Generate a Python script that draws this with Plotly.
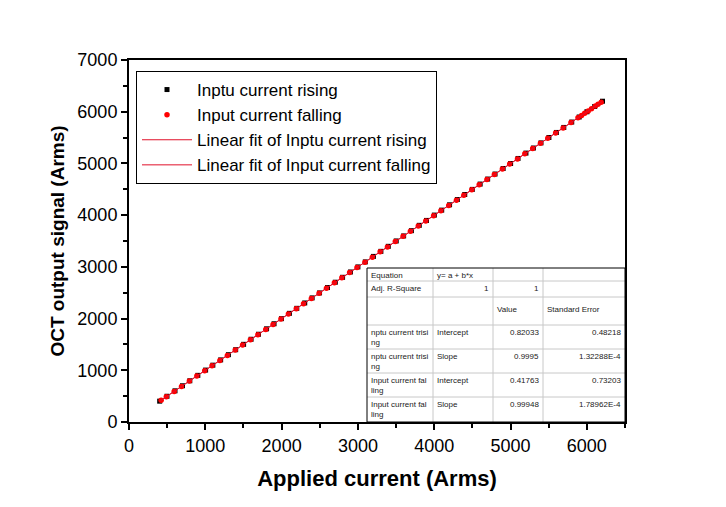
import plotly.graph_objects as go

# ---------------- data ----------------
rise_x = [402, 498, 603, 701, 797, 902, 1004, 1099, 1201, 1303,
          1398, 1502, 1600, 1697, 1803, 1901, 1998, 2102, 2199, 2303,
          2400, 2497, 2601, 2704, 2799, 2902, 3000, 3097, 3203, 3301,
          3398, 3502, 3599, 3701, 3804, 3899, 4002, 4098, 4201, 4303,
          4400, 4499, 4602, 4700, 4797, 4903, 5001, 5098, 5202, 5300,
          5399, 5503, 5601, 5698, 5802, 5900, 6001, 6103, 6205]
rise_y = [403, 498, 603, 701, 797, 902, 1004, 1099, 1201, 1302,
          1398, 1502, 1600, 1697, 1802, 1900, 1998, 2101, 2198, 2302,
          2400, 2496, 2600, 2703, 2798, 2901, 2999, 3096, 3202, 3300,
          3397, 3501, 3598, 3700, 3803, 3898, 4001, 4097, 4200, 4302,
          4399, 4498, 4601, 4698, 4795, 4902, 4999, 5096, 5200, 5298,
          5397, 5501, 5599, 5696, 5800, 5898, 5999, 6101, 6203]

fall_x = [6188, 6147, 6112, 6061, 6018, 5972, 5931, 5884, 5792, 5689,
          5591, 5488, 5392, 5290, 5187, 5091, 4989, 4893, 4788, 4691,
          4589, 4492, 4388, 4291, 4190, 4087, 3992, 3889, 3791, 3688,
          3592, 3490, 3387, 3291, 3189, 3092, 2988, 2891, 2789, 2692,
          2588, 2491, 2390, 2287, 2192, 2089, 1991, 1888, 1792, 1689,
          1591, 1488, 1392, 1289, 1191, 1088, 992, 889, 791, 688,
          592, 489, 421]
fall_y = [6185, 6145, 6109, 6058, 6016, 5969, 5929, 5881, 5790, 5687,
          5588, 5486, 5389, 5288, 5185, 5088, 4987, 4890, 4786, 4689,
          4587, 4490, 4386, 4289, 4188, 4085, 3990, 3887, 3789, 3687,
          3590, 3489, 3386, 3290, 3188, 3091, 2987, 2890, 2788, 2691,
          2587, 2490, 2389, 2286, 2191, 2088, 1990, 1887, 1791, 1688,
          1590, 1487, 1391, 1288, 1190, 1088, 992, 889, 791, 688,
          592, 489, 421]

fit_intercept = [0.82033, 0.41763]
fit_slope = [0.9995, 0.99948]
fit_intercept_err = ["0.48218", "0.73203"]
fit_slope_err = ["1.32288E-4", "1.78962E-4"]

series_names = ["Inptu current rising", "Input current falling",
                "Linear fit of Inptu current rising", "Linear fit of Input current falling"]

x_ticks = [0, 1000, 2000, 3000, 4000, 5000, 6000]
y_ticks = [0, 1000, 2000, 3000, 4000, 5000, 6000, 7000]

FONT = "Arial, Liberation Sans, sans-serif"

fig = go.Figure()
fig.add_trace(go.Scatter(x=rise_x, y=rise_y, mode="markers", name=series_names[0],
                         marker=dict(symbol="square", size=5, color="black")))
fig.add_trace(go.Scatter(x=fall_x, y=fall_y, mode="markers", name=series_names[1],
                         marker=dict(symbol="circle", size=5.5, color="#ff0000")))
for i, (xs, nm) in enumerate([(rise_x, series_names[2]), (fall_x, series_names[3])]):
    x0, x1 = min(xs), max(xs)
    fig.add_trace(go.Scatter(x=[x0, x1],
                             y=[fit_intercept[i] + fit_slope[i] * x0, fit_intercept[i] + fit_slope[i] * x1],
                             mode="lines", name=nm, line=dict(color="#e0102a", width=1)))

# ---------------- layout ----------------
L, R, T, B = 129, 625, 60, 422
W, H = 726, 507


def px(xp):
    return (xp - L) / (R - L)


def py(yp):
    return (B - yp) / (B - T)


shapes = []
annotations = []

# fit table inset
col = [367, 433, 493, 543, 625]
row = [268, 281, 297, 325, 349, 373, 397, 422]
for c in col[1:-1]:
    shapes.append(dict(type="line", xref="paper", yref="paper", x0=px(c), x1=px(c),
                       y0=py(row[0]), y1=py(row[-1]), line=dict(color="#c8c8c8", width=1)))
for r in row[1:-1]:
    shapes.append(dict(type="line", xref="paper", yref="paper", x0=px(col[0]), x1=px(col[-1]),
                       y0=py(r), y1=py(r), line=dict(color="#c8c8c8", width=1)))
shapes.append(dict(type="rect", xref="paper", yref="paper", x0=px(col[0]), x1=px(col[-1]),
                   y0=py(row[-1]), y1=py(row[0]), line=dict(color="black", width=1),
                   fillcolor="rgba(255,255,255,0)", layer="above"))


def cell(text, x, y, align="left"):
    annotations.append(dict(text=text, xref="paper", yref="paper", x=px(x), y=py(y),
                            xanchor=align, yanchor="top", showarrow=False, align=align,
                            font=dict(family=FONT, size=8, color="#222")))


cell("Equation", col[0] + 2, row[0] + 1)
cell("y= a + b*x", col[1] + 2, row[0] + 1)
cell("Adj. R-Square", col[0] + 2, row[1] + 1)
cell("1", col[2] - 2, row[1] + 1, "right")
cell("1", col[3] - 2, row[1] + 1, "right")
cell("Value", col[2] + 2, row[2] + 6)
cell("Standard Error", col[3] + 2, row[2] + 6)
labels = ["nptu current trisi<br>ng", "nptu current trisi<br>ng",
          "Input current fal<br>ling", "Input current fal<br>ling"]
params = ["Intercept", "Slope", "Intercept", "Slope"]
vals = [f"{fit_intercept[0]:.5f}", f"{fit_slope[0]}", f"{fit_intercept[1]:.5f}", f"{fit_slope[1]}"]
errs = [fit_intercept_err[0], fit_slope_err[0], fit_intercept_err[1], fit_slope_err[1]]
for k in range(4):
    top = row[3 + k] + 1
    cell(labels[k], col[0] + 2, top)
    cell(params[k], col[1] + 2, top)
    cell(vals[k], col[3] - 2, top, "right")
    cell(errs[k], col[4] - 2, top, "right")

axis_common = dict(showline=True, linecolor="black", linewidth=2, mirror=True,
                   ticks="outside", ticklen=6, tickwidth=1.5, tickcolor="black",
                   showgrid=False, zeroline=False,
                   tickfont=dict(family=FONT, size=18, color="black"))

fig.update_layout(
    width=W, height=H,
    margin=dict(l=L, r=W - R, t=T, b=H - B),
    paper_bgcolor="white", plot_bgcolor="white",
    font=dict(family=FONT, color="black"),
    xaxis=dict(range=[0, 6500], tickvals=x_ticks, ticktext=[str(v) for v in x_ticks],
               minor=dict(ticks="outside", ticklen=4, dtick=500, tickcolor="black", tickwidth=1.5),
               title=dict(text="<b>Applied current (Arms)</b>", font=dict(family=FONT, size=22), standoff=16),
               **axis_common),
    yaxis=dict(range=[0, 7000], tickvals=y_ticks, ticktext=[str(v) for v in y_ticks],
               minor=dict(ticks="outside", ticklen=4, dtick=500, tickcolor="black", tickwidth=1.5),
               title=dict(text="<b>OCT output signal (Arms)</b>", font=dict(family=FONT, size=19), standoff=8),
               **axis_common),
    legend=dict(x=px(136), y=py(71), xanchor="left", yanchor="top",
                bordercolor="black", borderwidth=1, bgcolor="white",
                font=dict(family=FONT, size=17, color="black"),
                tracegroupgap=0, itemwidth=50),
    shapes=shapes, annotations=annotations,
)

fig.write_html("out.html")
